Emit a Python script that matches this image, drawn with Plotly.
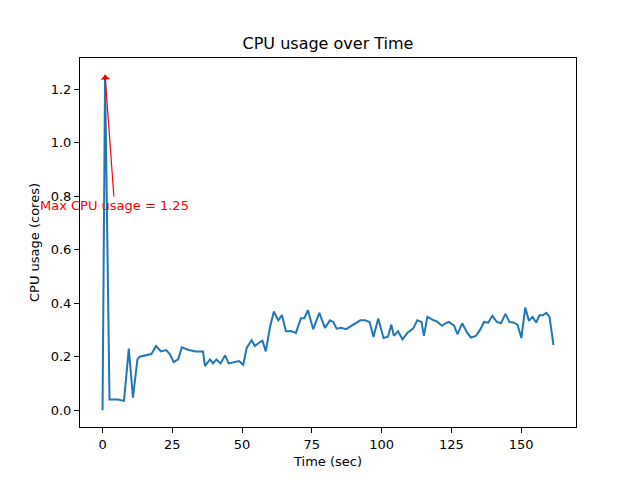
import plotly.graph_objects as go

time_sec = [0, 0.9, 2.5, 5.5, 7.7, 9.4, 10.9, 12.5, 13.3, 16, 17.5, 19.2, 20.9, 22.8, 24.1, 25.5,
            27.1, 28.4, 30.9, 33.3, 36, 36.7, 38.5, 39.6, 40.8, 42.3, 43.9, 45.2, 47.7, 48.9,
            50.4, 51.7, 53.4, 54.6, 56.4, 57.3, 58.5, 60, 61.4, 63, 64.3, 65.7, 67.5, 69.3,
            71.1, 72.3, 73.6, 75.5, 77.7, 79.7, 81.5, 82.7, 83.9, 85.5, 87.3, 89.1, 90.9,
            92.4, 94.1, 95.7, 97.1, 98.8, 100.7, 102.3, 103.5, 104.4, 105.9, 107.5, 109.3,
            111.3, 112.8, 114.3, 115.2, 116.4, 118.2, 119.9, 121.7, 122.9, 124.1, 126,
            127.2, 128.9, 130.5, 132, 133.8, 135.4, 136.7, 138.2, 139.7, 141.3, 142.8,
            144.4, 145.8, 147.2, 148.7, 150.1, 151.5, 152.8, 154.1, 155.4, 156.6, 157.8,
            159, 160.2, 161.6]
cpu_cores = [0.0, 1.254, 0.04, 0.04, 0.035, 0.23, 0.047, 0.19, 0.20, 0.205, 0.21, 0.24, 0.22,
             0.225, 0.21, 0.18, 0.19, 0.235, 0.225, 0.22, 0.22, 0.165, 0.19, 0.175, 0.19,
             0.175, 0.205, 0.175, 0.18, 0.184, 0.17, 0.234, 0.262, 0.24, 0.255, 0.26, 0.22,
             0.31, 0.369, 0.336, 0.356, 0.295, 0.296, 0.289, 0.344, 0.344, 0.374, 0.303,
             0.364, 0.308, 0.336, 0.33, 0.305, 0.308, 0.303, 0.315, 0.326, 0.336, 0.336,
             0.33, 0.274, 0.343, 0.27, 0.275, 0.32, 0.278, 0.295, 0.265, 0.29, 0.305, 0.336,
             0.33, 0.278, 0.349, 0.339, 0.331, 0.316, 0.325, 0.33, 0.316, 0.284, 0.325,
             0.293, 0.272, 0.278, 0.302, 0.33, 0.327, 0.353, 0.33, 0.325, 0.36, 0.33, 0.328,
             0.32, 0.27, 0.384, 0.334, 0.349, 0.328, 0.355, 0.355, 0.364, 0.349, 0.243]

x_ticks = [0, 25, 50, 75, 100, 125, 150]
y_ticks = [0.0, 0.2, 0.4, 0.6, 0.8, 1.0, 1.2]

max_val = max(cpu_cores)
max_t = time_sec[cpu_cores.index(max_val)]

font = "DejaVu Sans, Arial, sans-serif"

fig = go.Figure()
fig.add_trace(go.Scatter(x=time_sec, y=cpu_cores, mode="lines",
                         line=dict(color="#1f77b4", width=2), showlegend=False))

xmin, xmax = min(time_sec), max(time_sec)
ymin, ymax = min(cpu_cores), max(cpu_cores)
xpad = (xmax - xmin) * 0.05
ypad = (ymax - ymin) * 0.05

fig.add_annotation(x=max_t, y=max_val, ax=4.3, ay=0.765, axref="x", ayref="y",
                   xref="x", yref="y", text=f"Max CPU usage = {max_val:.2f}",
                   showarrow=True, arrowhead=1, arrowsize=1.3, arrowwidth=1.2,
                   arrowcolor="red", font=dict(color="red", size=13, family=font))

axis_common = dict(showline=True, linecolor="black", linewidth=1, mirror=True,
                   ticks="outside", ticklen=5, tickcolor="black", showgrid=False,
                   zeroline=False, tickfont=dict(size=13, family=font, color="black"))

fig.update_layout(
    width=640, height=480, plot_bgcolor="white", paper_bgcolor="white",
    margin=dict(l=72, r=72, t=50, b=61),
    title=dict(text="CPU usage over Time", x=0.5, xanchor="center", y=0.927, yanchor="middle",
               xref="paper", font=dict(size=16, family=font, color="black")),
    xaxis=dict(range=[xmin - xpad, xmax + xpad], tickvals=x_ticks,
               title=dict(text="Time (sec)", font=dict(size=13, family=font, color="black"), standoff=6),
               **axis_common),
    yaxis=dict(range=[ymin - ypad, ymax + ypad], tickvals=y_ticks, tickformat=".1f",
               title=dict(text="CPU usage (cores)", font=dict(size=13, family=font, color="black"), standoff=8),
               **axis_common),
)

fig.write_html("out.html")
